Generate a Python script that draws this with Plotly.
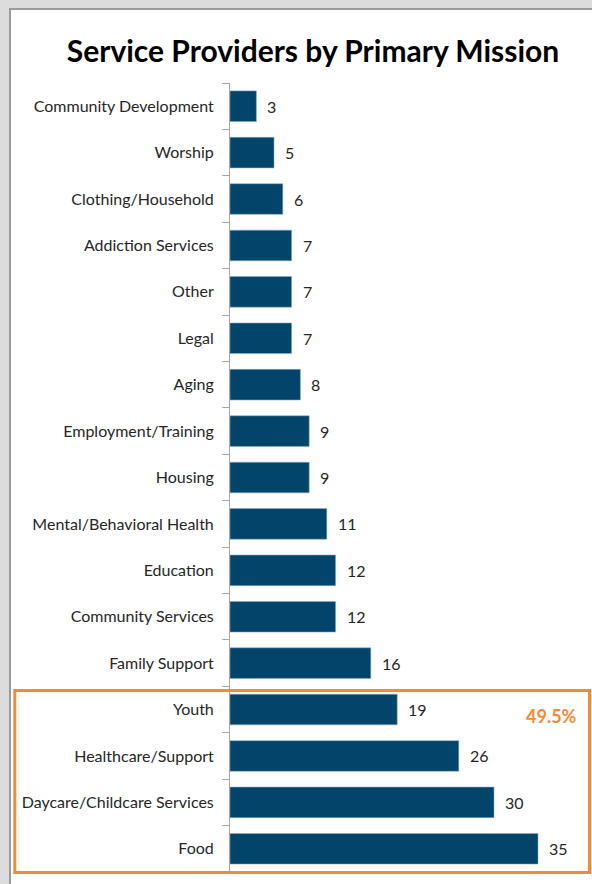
import plotly.graph_objects as go

categories = [
    "Community Development", "Worship", "Clothing/Household", "Addiction Services",
    "Other", "Legal", "Aging", "Employment/Training", "Housing",
    "Mental/Behavioral Health", "Education", "Community Services", "Family Support",
    "Youth", "Healthcare/Support", "Daycare/Childcare Services", "Food",
]
values = [3, 5, 6, 7, 7, 7, 8, 9, 9, 11, 12, 12, 16, 19, 26, 30, 35]
highlight_label = "49.5%"
title_text = "Service Providers by Primary Mission"

BAR = "#03446A"
ORANGE = "#F58A32"
FONT = "Lato, Carlito, Calibri, sans-serif"

fig = go.Figure()
fig.add_trace(go.Bar(
    x=values, y=categories, orientation="h",
    marker=dict(color=BAR, line=dict(color="rgba(140,175,205,0.7)", width=0.8)),
    hoverinfo="x+y",
))

for c, v in zip(categories, values):
    fig.add_annotation(x=v, y=c, text=str(v), showarrow=False, xanchor="left",
                       yanchor="middle", xshift=9,
                       font=dict(family=FONT, size=16, color="#262626"))

W, H = 592, 884
ml, mr, mt, mb = 230, 10, 83, 12
pw, ph = W - ml - mr, H - mt - mb

def px(x):
    return (x - ml) / pw

def py(y):
    return (H - mb - y) / ph

# outer frame
fig.add_shape(type="rect", xref="paper", yref="paper",
              x0=px(10), x1=px(620), y0=py(910), y1=py(9),
              fillcolor="white", line=dict(color="#9A9A9A", width=2), layer="below")
# highlight box
fig.add_shape(type="rect", xref="paper", yref="paper",
              x0=px(14.8), x1=px(589.5), y0=py(872.5), y1=py(690.5),
              line=dict(color=ORANGE, width=3), layer="above")
fig.add_annotation(xref="paper", yref="paper", x=px(551), y=py(716),
                   text=f"<b>{highlight_label}</b>", showarrow=False,
                   xanchor="center", yanchor="middle",
                   font=dict(family=FONT, size=18, color=ORANGE))

fig.update_layout(
    width=W, height=H,
    margin=dict(l=ml, r=mr, t=mt, b=mb),
    paper_bgcolor="#DCDCDC", plot_bgcolor="rgba(0,0,0,0)",
    bargap=0.34, showlegend=False,
    title=dict(text=f"<b>{title_text}</b>", x=313 / W, y=1 - 51 / H,
               xanchor="center", yanchor="middle",
               font=dict(family=FONT, size=30, color="black")),
    xaxis=dict(range=[0, 40], visible=False, showgrid=False, zeroline=False),
    yaxis=dict(autorange="reversed", showline=True, linecolor="#A6A6A6", linewidth=1,
               ticks="outside", tickson="boundaries", ticklen=7, tickcolor="#A6A6A6",
               ticklabelstandoff=12, showgrid=False,
               tickfont=dict(family=FONT, size=16, color="#262626")),
)

fig.write_html("out.html", config={"displayModeBar": False},
               post_script="document.body.style.margin='0';document.body.style.overflow='hidden';")
